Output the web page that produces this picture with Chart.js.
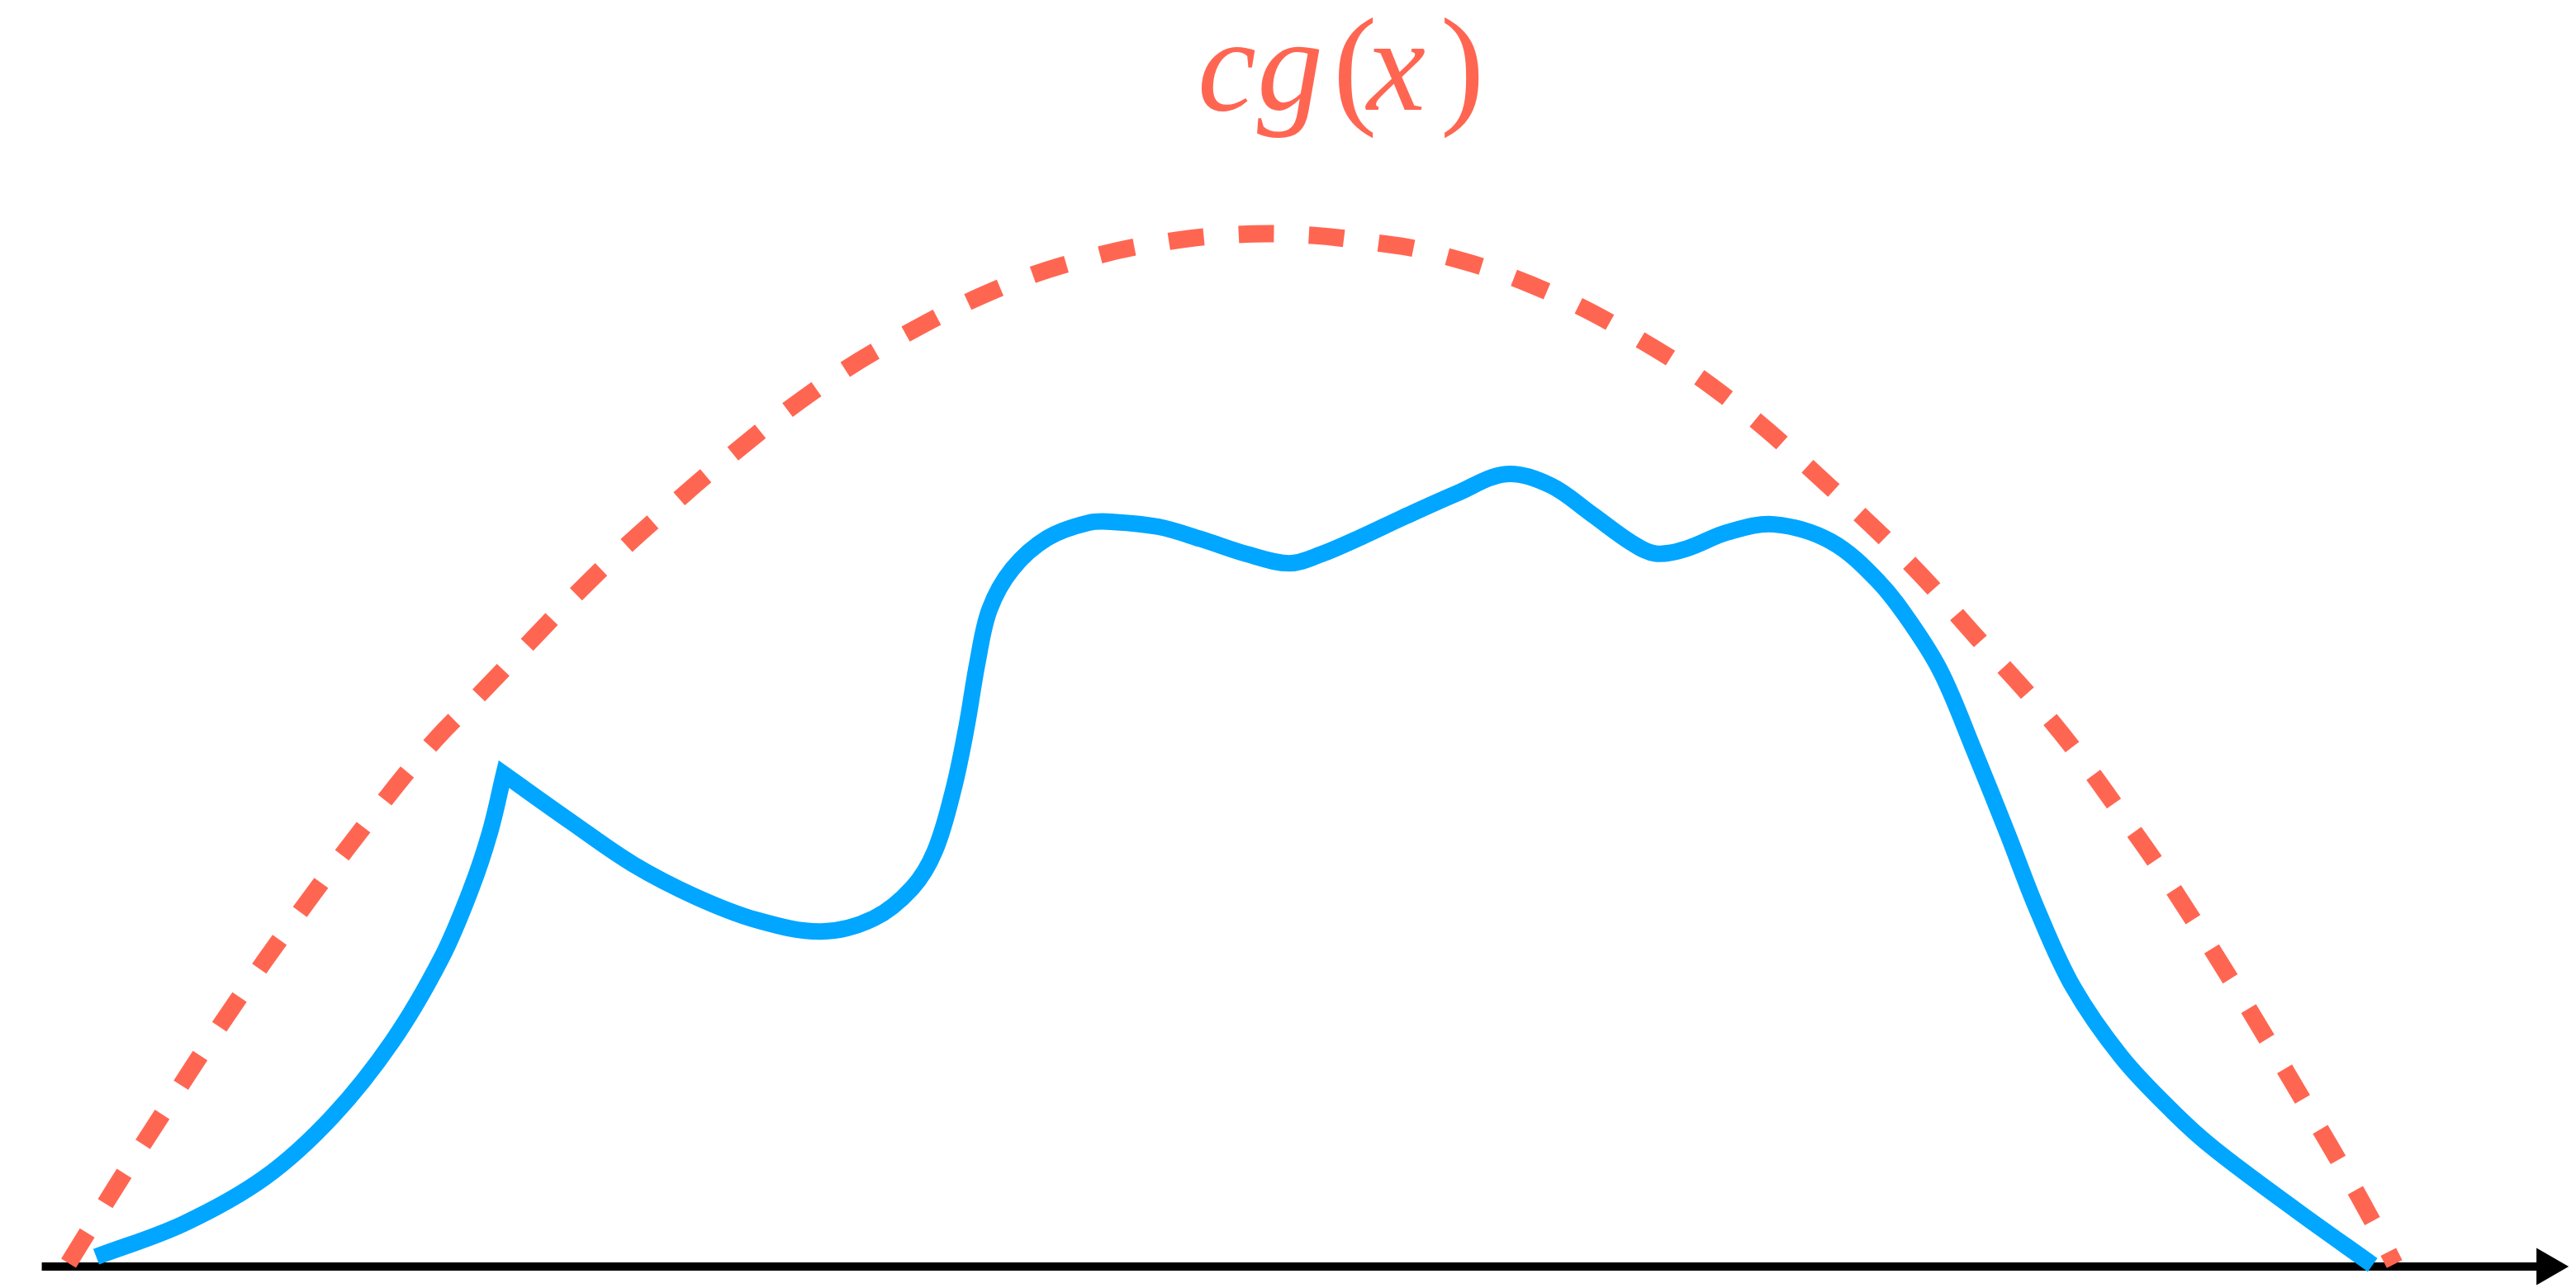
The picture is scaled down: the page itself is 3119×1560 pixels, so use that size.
<!DOCTYPE html>
<html>
<head>
<meta charset="utf-8">
<script src="https://cdn.jsdelivr.net/npm/chart.js@4.4.1/dist/chart.umd.min.js"></script>
<style>
  html, body { margin: 0; padding: 0; background: #ffffff; }
  #wrap { width: 3119px; height: 1560px; }
</style>
</head>
<body>
<div id="wrap"><canvas id="c" width="3119" height="1560"></canvas></div>
<script>
// ---- data (horizontal position, height above the axis) ----
const envelopeX = [58, 114, 160, 250, 350, 452, 510, 562, 623, 682, 744, 807, 855, 975, 1084, 1213, 1320, 1407, 1492, 1578, 1662, 1737, 1860, 1989, 2108, 2228, 2327, 2410, 2483, 2537, 2587, 2636, 2730, 2820, 2858, 2899, 2922];
const envelopeY = [4, 95, 167, 305, 447, 581, 650, 703, 767, 828, 888, 944, 985, 1079, 1147, 1210, 1245, 1263, 1272, 1272, 1263, 1250, 1210, 1145, 1065, 960, 865, 773, 692, 625, 556, 486, 338, 187, 122, 48, 3];

// target density: rising branch up to the cusp
const densLeftX = [92, 200, 300, 383, 457, 517, 553, 577, 594];
const densLeftY = [12, 53, 110, 185, 278, 380, 464, 536, 607];
// target density: from the cusp to the right end
const densRightX = [594, 677, 753, 830, 906, 985, 1049, 1097, 1125, 1148, 1164, 1177, 1192, 1220, 1263, 1314, 1345, 1400, 1452, 1510, 1561, 1600, 1651, 1700, 1767, 1828, 1883, 1933, 1983, 2012, 2050, 2100, 2158, 2228, 2287, 2330, 2365, 2404, 2445, 2482, 2526, 2586, 2650, 2700, 2800, 2895];
const densRightY = [607, 548, 496, 456, 427, 413, 429, 467, 513, 590, 667, 744, 810, 860, 898, 917, 918, 912, 897, 878, 867, 878, 900, 923, 953, 977, 963, 928, 892, 879, 885, 905, 915, 894, 844, 788, 730, 637, 535, 440, 345, 258, 190, 145, 70, 2];

// horizontal axis (start, end of arrow)
const axisX = [25, 3110];
const axisY = [0, 0];

const labelParts = ['c', 'g', '(', 'x', ')'];

const RED = 'rgb(255,102,82)';
const BLUE = 'rgb(0,166,255)';

function pts(xs, ys) { return xs.map((x, i) => ({ x: x, y: ys[i] })); }

const densityPts = pts(densLeftX, densLeftY).concat(pts(densRightX, densRightY));

const labelPlugin = {
  id: 'mathLabel',
  afterDraw(chart) {
    const ctx = chart.ctx;
    ctx.save();
    ctx.fillStyle = RED;
    ctx.textBaseline = 'alphabetic';
    ctx.textAlign = 'left';
    const xs = [1450, 1522, 1614, 1655, 1744];
    const italic = [true, true, false, true, false];
    labelParts.forEach((t, i) => {
      ctx.font = (italic[i] ? 'italic ' : '') + '160px "Liberation Serif", "DejaVu Serif", serif';
      ctx.fillText(t, xs[i], 133);
    });
    ctx.restore();
  }
};

new Chart(document.getElementById('c'), {
  type: 'line',
  data: {
    datasets: [
      {
        label: 'g',
        data: densityPts,
        borderColor: BLUE,
        borderWidth: 20,
        tension: 0.35,
        pointRadius: 0,
        fill: false,
        borderJoinStyle: 'miter',
        borderCapStyle: 'butt',
        clip: false,
        order: 1
      },
      {
        label: 'cg(x)',
        data: pts(envelopeX, envelopeY),
        borderColor: RED,
        borderWidth: 21,
        borderDash: [43, 42],
        tension: 0.4,
        pointRadius: 0,
        fill: false,
        borderCapStyle: 'butt',
        clip: false,
        order: 2
      },
      {
        label: 'axis',
        data: pts(axisX, axisY),
        borderColor: '#000000',
        borderWidth: 10,
        tension: 0,
        pointRadius: [0, 26],
        pointStyle: 'triangle',
        pointRotation: 90,
        pointBackgroundColor: '#000000',
        pointBorderColor: '#000000',
        pointBorderWidth: 0,
        fill: false,
        clip: false,
        order: 3
      }
    ]
  },
  options: {
    responsive: false,
    animation: false,
    devicePixelRatio: 1,
    events: [],
    layout: { padding: { left: 0, right: 0, top: 0, bottom: 25 } },
    scales: {
      x: { type: 'linear', min: 0, max: 3119, display: false },
      y: { type: 'linear', min: 0, max: 1535, display: false }
    },
    plugins: {
      legend: { display: false },
      tooltip: { enabled: false },
      title: { display: false }
    }
  },
  plugins: [labelPlugin]
});
</script>
</body>
</html>
